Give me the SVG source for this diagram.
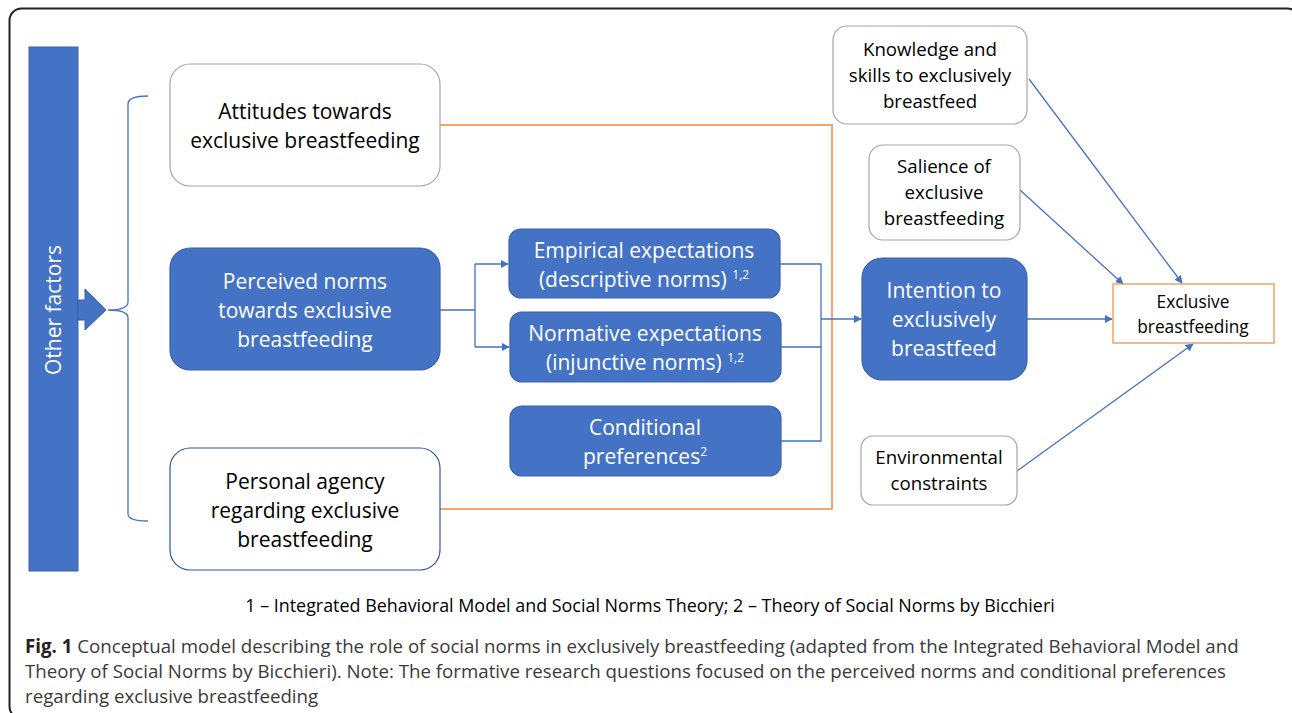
<svg xmlns="http://www.w3.org/2000/svg" width="1292" height="713" viewBox="0 0 1292 713">
  <style>
    .lbl { font-family: "Open Sans", "Liberation Sans", sans-serif; font-size: 21px; text-anchor: middle; fill: #000; }
    .lbl-w { fill: #fff; }
    .sm { font-size: 18.7px; }
    .blue { fill: #4472C4; stroke: #3A62A8; stroke-width: 1.2; }
    .white-g { fill: #fff; stroke: #A6A6A6; stroke-width: 1.2; }
    .white-b { fill: #fff; stroke: #2F55A4; stroke-width: 1.2; }
    .conn { fill: none; stroke: #4472C4; stroke-width: 1.3; }
    .orange { fill: none; stroke: #F4A46E; stroke-width: 2; }
    .cap { font-family: "Open Sans", "Liberation Sans", sans-serif; font-size: 18.7px; fill: #3a3a3a; }
  </style>
  <defs>
    <marker id="ah" viewBox="0 0 10 10" refX="9" refY="5" markerWidth="8" markerHeight="8" markerUnits="userSpaceOnUse" orient="auto">
      <path d="M0,0 L10,5 L0,10 z" fill="#4472C4"/>
    </marker>
  </defs>

  <!-- outer frame -->
  <rect x="9.5" y="8.5" width="1290" height="710" rx="12" fill="#fff" stroke="#222" stroke-width="2"/>

  <!-- other factors bar with arrow -->
  <g id="other-factors">
    <rect x="29" y="47" width="49" height="524" fill="#4472C4" stroke="#3A62A8" stroke-width="1"/>
    <path d="M78,300 L85,300 L85,289 L106,310 L85,330 L85,320 L78,320 z" fill="#4472C4" stroke="#3A62A8" stroke-width="1"/>
    <text class="lbl lbl-w" transform="translate(61,310) rotate(-90)" style="font-size:21px">Other factors</text>
  </g>

  <!-- brace -->
  <g id="brace">
    <path d="M148,96 Q128,96 128,104 L128,302 Q128,310 108,310 Q128,310 128,318 L128,514 Q128,521 148,521" fill="none" stroke="#4472C4" stroke-width="1.3"/>
  </g>

  <!-- connectors -->
  <g id="connectors">
    <polyline class="orange" points="440,125 832,125 832,509 440,509"/>
    <path class="conn" d="M440,310 H475 M475,264 V347"/>
    <path class="conn" d="M475,264 H508" marker-end="url(#ah)"/>
    <path class="conn" d="M475,347 H509" marker-end="url(#ah)"/>
    <path class="conn" d="M780,264 H821 V441 H781 M781,347 H821"/>
    <path class="conn" d="M821,319 H861" marker-end="url(#ah)"/>
    <path class="conn" d="M1027,319 H1112" marker-end="url(#ah)"/>
    <path class="conn" d="M1029,79 L1182,283" marker-end="url(#ah)"/>
    <path class="conn" d="M1020,190 L1123,284" marker-end="url(#ah)"/>
    <path class="conn" d="M1017,471 L1193,344" marker-end="url(#ah)"/>
  </g>

  <g id="attitudes">
    <rect class="white-g" x="170" y="64" width="270" height="122" rx="20"/>
    <text class="lbl" x="305" y="119">Attitudes towards</text>
    <text class="lbl" x="305" y="148">exclusive breastfeeding</text>
  </g>

  <g id="perceived-norms">
    <rect class="blue" x="170" y="248" width="270" height="122" rx="20"/>
    <text class="lbl lbl-w" x="305" y="289">Perceived norms</text>
    <text class="lbl lbl-w" x="305" y="318">towards exclusive</text>
    <text class="lbl lbl-w" x="305" y="347">breastfeeding</text>
  </g>

  <g id="personal-agency">
    <rect class="white-b" x="170" y="448" width="270" height="122" rx="20"/>
    <text class="lbl" x="305" y="489">Personal agency</text>
    <text class="lbl" x="305" y="518">regarding exclusive</text>
    <text class="lbl" x="305" y="547">breastfeeding</text>
  </g>

  <g id="empirical">
    <rect class="blue" x="509" y="229" width="271" height="69" rx="12"/>
    <text class="lbl lbl-w" x="644" y="258">Empirical expectations</text>
    <text class="lbl lbl-w" x="644" y="287">(descriptive norms) <tspan font-size="12" dy="-8">1,2</tspan></text>
  </g>

  <g id="normative">
    <rect class="blue" x="510" y="312" width="271" height="70" rx="12"/>
    <text class="lbl lbl-w" x="645" y="341">Normative expectations</text>
    <text class="lbl lbl-w" x="645" y="370">(injunctive norms) <tspan font-size="12" dy="-8">1,2</tspan></text>
  </g>

  <g id="conditional">
    <rect class="blue" x="510" y="406" width="271" height="70" rx="12"/>
    <text class="lbl lbl-w" x="645" y="435">Conditional</text>
    <text class="lbl lbl-w" x="645" y="464">preferences<tspan font-size="12" dy="-8">2</tspan></text>
  </g>

  <g id="intention">
    <rect class="blue" x="862" y="258" width="165" height="122" rx="20"/>
    <text class="lbl lbl-w" x="944" y="298">Intention to</text>
    <text class="lbl lbl-w" x="944" y="327">exclusively</text>
    <text class="lbl lbl-w" x="944" y="356">breastfeed</text>
  </g>

  <g id="knowledge">
    <rect class="white-g" x="833" y="26" width="194" height="98" rx="14"/>
    <text class="lbl sm" x="930" y="56">Knowledge and</text>
    <text class="lbl sm" x="930" y="82">skills to exclusively</text>
    <text class="lbl sm" x="930" y="108">breastfeed</text>
  </g>

  <g id="salience">
    <rect class="white-g" x="869" y="145" width="151" height="95" rx="14"/>
    <text class="lbl sm" x="944" y="173">Salience of</text>
    <text class="lbl sm" x="944" y="199">exclusive</text>
    <text class="lbl sm" x="944" y="225">breastfeeding</text>
  </g>

  <g id="environmental">
    <rect class="white-g" x="861" y="436" width="156" height="69" rx="12"/>
    <text class="lbl sm" x="939" y="464">Environmental</text>
    <text class="lbl sm" x="939" y="490">constraints</text>
  </g>

  <g id="exclusive-bf">
    <rect x="1113" y="284" width="161" height="59" fill="#fff" stroke="#F0954F" stroke-width="1.3"/>
    <text class="lbl" x="1193" y="308" style="font-size:17.3px">Exclusive</text>
    <text class="lbl" x="1193" y="333" style="font-size:17.3px">breastfeeding</text>
  </g>

  <!-- footnote and caption -->
  <text class="lbl" x="650" y="612" style="font-size:17.9px">1 – Integrated Behavioral Model and Social Norms Theory; 2 – Theory of Social Norms by Bicchieri</text>
  <text class="cap" x="25" y="653"><tspan font-weight="bold" fill="#222">Fig. 1</tspan> Conceptual model describing the role of social norms in exclusively breastfeeding (adapted from the Integrated Behavioral Model and</text>
  <text class="cap" x="25" y="678">Theory of Social Norms by Bicchieri). Note: The formative research questions focused on the perceived norms and conditional preferences</text>
  <text class="cap" x="25" y="703">regarding exclusive breastfeeding</text>
</svg>
